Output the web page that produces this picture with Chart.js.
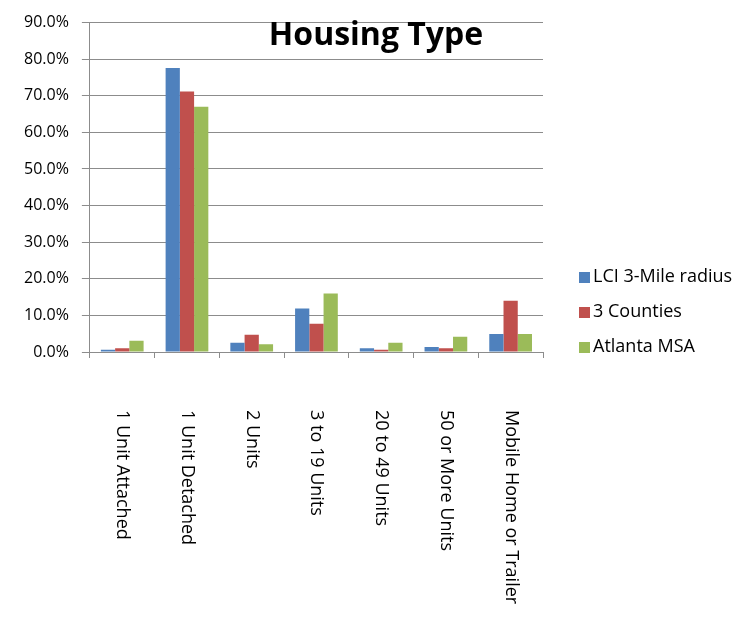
<!DOCTYPE html>
<html>
<head>
<meta charset="utf-8">
<script src="https://cdn.jsdelivr.net/npm/chart.js@4"></script>
<style>
  html, body { margin: 0; padding: 0; background: #fff; }
  #wrap { width: 743px; height: 617px; }
</style>
</head>
<body>
<div id="wrap"><canvas id="housingChart" width="743" height="617"></canvas></div>
<script>
(function () {
    'use strict';

    // ── Data ──────────────────────────────────────────────────────────────────
    var categories = ['1 Unit Attached', '1 Unit Detached', '2 Units', '3 to 19 Units',
                      '20 to 49 Units', '50 or More Units', 'Mobile Home or Trailer'];
    var seriesNames = ['LCI 3-Mile radius', '3 Counties', 'Atlanta MSA'];
    var lciRadius  = [0.6, 77.6, 2.5, 11.9, 1.0, 1.4, 4.9];
    var threeCounties = [1.0, 71.2, 4.7, 7.7, 0.6, 1.0, 14.0];
    var atlantaMsa = [3.1, 67.0, 2.1, 16.0, 2.5, 4.2, 4.9];
    var yTicks = [0, 10, 20, 30, 40, 50, 60, 70, 80, 90];

    var colors = ['#4F81BD', '#C0504D', '#9BBB59'];
    var font = "'Open Sans', 'DejaVu Sans', sans-serif";
    var gridGray = '#8c8c8c';

    // ── Plugin: title, rotated category labels, legend ────────────────────────
    var overlay = {
        id: 'overlay',
        afterDraw: function (chart) {
            var ctx = chart.ctx;
            var x = chart.scales.x;
            ctx.save();

            // title sits inside the plot, right of centre
            ctx.fillStyle = '#000';
            ctx.font = 'bold 32px ' + font;
            ctx.textAlign = 'center';
            ctx.textBaseline = 'alphabetic';
            ctx.fillText('Housing Type', 376, 45);

            // category labels, turned clockwise
            ctx.font = '18px ' + font;
            ctx.textAlign = 'left';
            ctx.textBaseline = 'middle';
            categories.forEach(function (c, i) {
                ctx.save();
                ctx.translate(x.getPixelForValue(i), 410);
                ctx.rotate(Math.PI / 2);
                ctx.fillText(c, 0, 0);
                ctx.restore();
            });

            // legend
            ctx.font = '18px ' + font;
            seriesNames.forEach(function (name, i) {
                var cy = 277 + i * 35;
                ctx.fillStyle = colors[i];
                ctx.fillRect(579, cy - 5, 11, 11);
                ctx.fillStyle = '#000';
                ctx.fillText(name, 593, cy);
            });
            ctx.restore();
        }
    };

    new Chart(document.getElementById('housingChart').getContext('2d'), {
        type: 'bar',
        data: {
            labels: categories,
            datasets: [
                { label: seriesNames[0], data: lciRadius, backgroundColor: colors[0] },
                { label: seriesNames[1], data: threeCounties, backgroundColor: colors[1] },
                { label: seriesNames[2], data: atlantaMsa, backgroundColor: colors[2] }
            ]
        },
        options: {
            responsive: false,
            animation: false,
            devicePixelRatio: 1,
            layout: { padding: { left: 11, right: 200, top: 16, bottom: 259 } },
            datasets: { bar: { categoryPercentage: 0.66, barPercentage: 1.0 } },
            scales: {
                x: {
                    grid: { drawOnChartArea: false, drawTicks: true, tickLength: 6, color: gridGray, offset: true },
                    border: { color: gridGray },
                    ticks: { display: false }
                },
                y: {
                    min: 0,
                    max: 90,
                    afterBuildTicks: function (axis) {
                        axis.ticks = yTicks.map(function (v) { return { value: v }; });
                    },
                    grid: { color: gridGray, tickLength: 8 },
                    border: { color: gridGray },
                    ticks: {
                        padding: 13,
                        color: '#000',
                        font: { family: font, size: 16 },
                        callback: function (v) { return v.toFixed(1) + '%'; }
                    }
                }
            },
            plugins: {
                legend: { display: false },
                title: { display: false },
                tooltip: { enabled: false }
            }
        },
        plugins: [overlay]
    });
})();
</script>
</body>
</html>
